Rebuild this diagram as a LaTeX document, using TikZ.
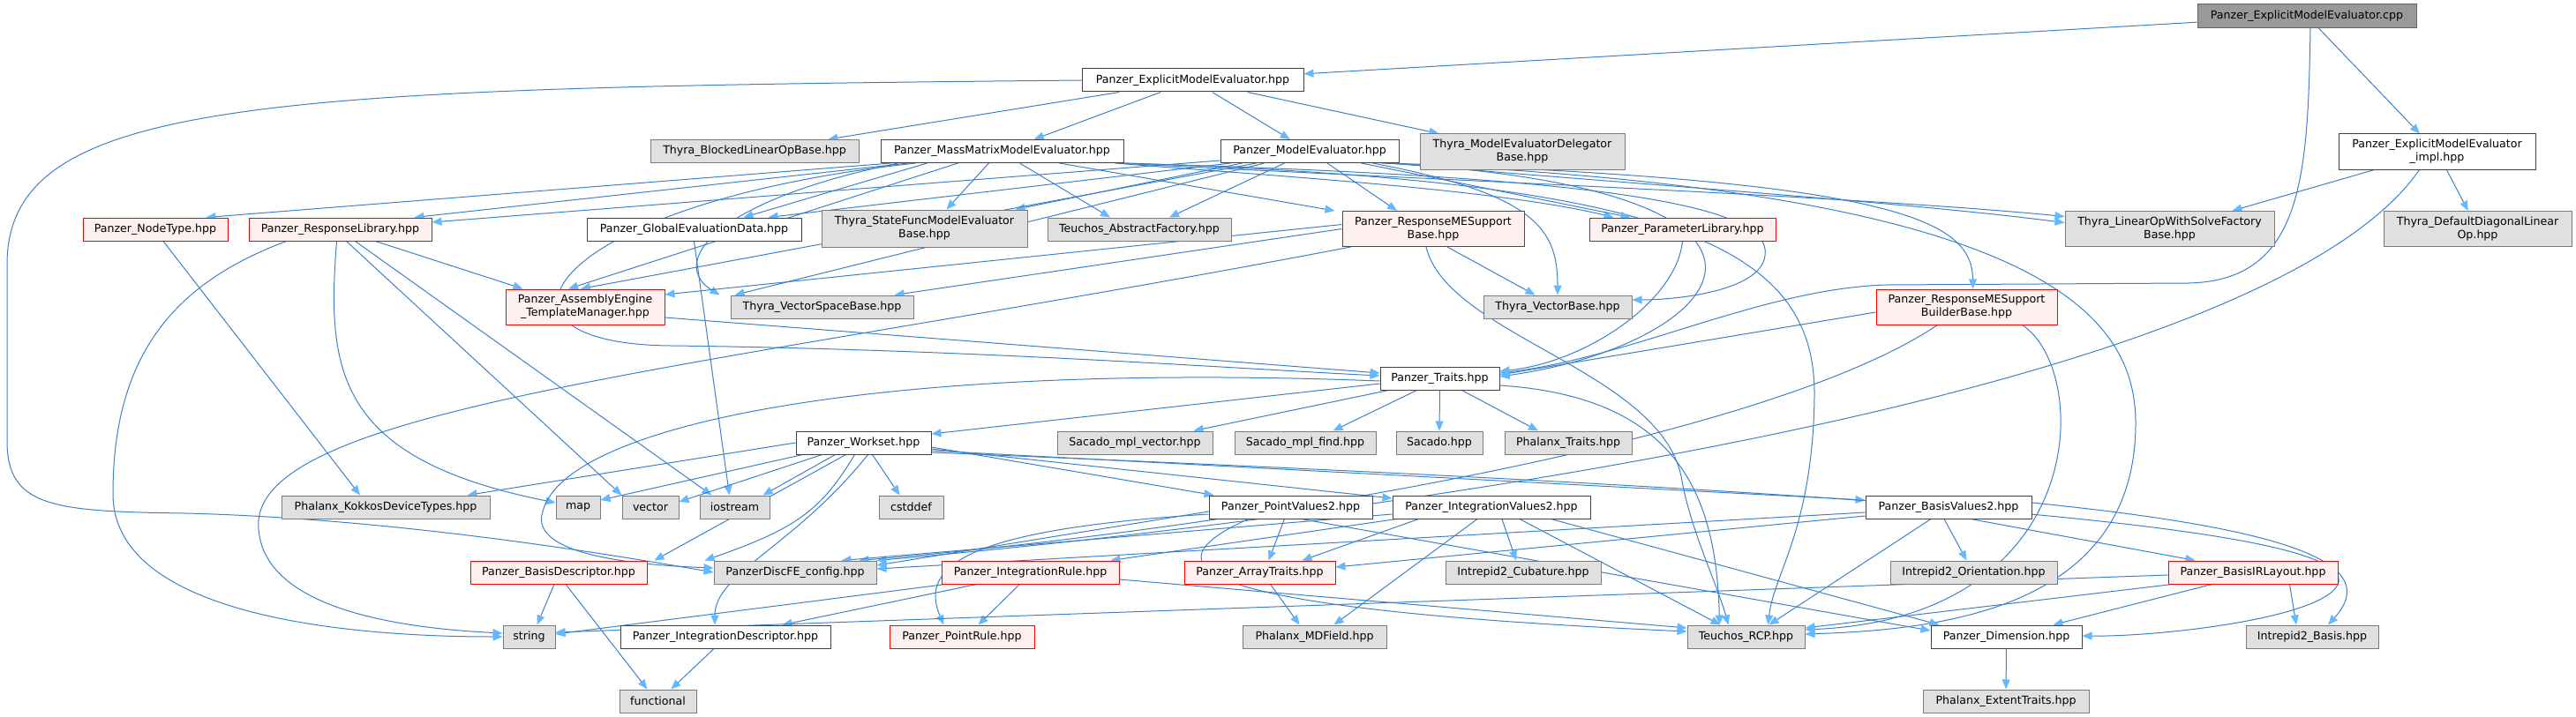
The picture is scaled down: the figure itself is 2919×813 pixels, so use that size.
\documentclass[tikz,border=0pt]{standalone}
\usepackage{fontspec}
\setmainfont{DejaVu Sans}
\usetikzlibrary{arrows.meta,calc}
\pgfdeclarelayer{edgelayer}
\pgfsetlayers{edgelayer,main}
\definecolor{edgec}{HTML}{3C80C8}
\definecolor{tipc}{HTML}{63B8FF}
\definecolor{gfill}{HTML}{E0E0E0}
\definecolor{gdraw}{HTML}{7A7A7A}
\definecolor{wdraw}{HTML}{404040}
\definecolor{rfill}{HTML}{FFF0F0}
\definecolor{cppfill}{HTML}{999999}
\definecolor{cppdraw}{HTML}{666666}
\begin{document}
\begin{tikzpicture}[x=0.5pt,y=-0.5pt,
  font=\fontsize{6.3}{7.5}\selectfont,
  nb/.style={draw,line width=0.5pt,inner sep=0pt,minimum height=13pt,align=center},
  gn/.style={nb,fill=gfill,draw=gdraw},
  wn/.style={nb,fill=white,draw=wdraw},
  rn/.style={nb,fill=rfill,draw=red},
  cn/.style={nb,fill=cppfill,draw=cppdraw},
  tall/.style={minimum height=20pt},
  e/.style={draw=edgec,line width=0.5pt,-{Triangle[length=5.5pt,width=4.5pt,color=tipc]}}]
\useasboundingbox (0,0) rectangle (2919,813);
% nodes
\node[cn,minimum width=124pt,minimum height=13.5pt] (cpp) at (2614,18) {Panzer\_ExplicitModelEvaluator.cpp};
\node[wn,minimum width=125.5pt] (emeh) at (1351.5,91) {Panzer\_ExplicitModelEvaluator.hpp};
\node[wn,tall,minimum width=111.5pt] (emei) at (2761.5,172) {Panzer\_ExplicitModelEvaluator\\\_impl.hpp};
\node[gn,minimum width=118pt] (blocked) at (855,171.5) {Thyra\_BlockedLinearOpBase.hpp};
\node[wn,minimum width=137.5pt] (mmme) at (1135.5,171.5) {Panzer\_MassMatrixModelEvaluator.hpp};
\node[wn,minimum width=101pt] (me) at (1484,171.5) {Panzer\_ModelEvaluator.hpp};
\node[gn,tall,minimum width=116pt] (medel) at (1725,172) {Thyra\_ModelEvaluatorDelegator\\Base.hpp};
\node[gn,tall,minimum width=118.5pt] (lows) at (2458.5,259.5) {Thyra\_LinearOpWithSolveFactory\\Base.hpp};
\node[gn,tall,minimum width=106.5pt] (diag) at (2807.5,259.5) {Thyra\_DefaultDiagonalLinear\\Op.hpp};
\node[rn,minimum width=82pt] (nodetype) at (176,260) {Panzer\_NodeType.hpp};
\node[rn,minimum width=103.5pt] (resplib) at (385.5,260) {Panzer\_ResponseLibrary.hpp};
\node[wn,minimum width=121.5pt] (ged) at (786.5,260) {Panzer\_GlobalEvaluationData.hpp};
\node[gn,minimum height=21pt,minimum width=116.5pt] (sfme) at (1047.5,259) {Thyra\_StateFuncModelEvaluator\\Base.hpp};
\node[gn,minimum width=104pt] (absfac) at (1291,260) {Teuchos\_AbstractFactory.hpp};
\node[rn,tall,minimum width=103pt] (rmesb) at (1624,259.5) {Panzer\_ResponseMESupport\\Base.hpp};
\node[rn,minimum width=105.5pt] (paramlib) at (1906.5,260) {Panzer\_ParameterLibrary.hpp};
\node[rn,tall,minimum width=90pt] (aetm) at (663,348) {Panzer\_AssemblyEngine\\\_TemplateManager.hpp};
\node[gn,minimum width=103.5pt] (vsb) at (931.5,348) {Thyra\_VectorSpaceBase.hpp};
\node[gn,minimum width=84pt] (vb) at (1765,348) {Thyra\_VectorBase.hpp};
\node[rn,tall,minimum width=102.5pt] (rmesbb) at (2228.5,348) {Panzer\_ResponseMESupport\\BuilderBase.hpp};
\node[wn,minimum width=67.5pt] (traits) at (1631.5,429) {Panzer\_Traits.hpp};
\node[wn,minimum width=76.5pt] (workset) at (978.5,502) {Panzer\_Workset.hpp};
\node[gn,minimum width=88pt] (smv) at (1286,502) {Sacado\_mpl\_vector.hpp};
\node[gn,minimum width=80pt] (smf) at (1479,502) {Sacado\_mpl\_find.hpp};
\node[gn,minimum width=49pt] (sacado) at (1631,502) {Sacado.hpp};
\node[gn,minimum width=72pt] (phtraits) at (1777,502) {Phalanx\_Traits.hpp};
\node[gn,minimum width=118pt] (kokkos) at (437,575) {Phalanx\_KokkosDeviceTypes.hpp};
\node[gn,minimum width=25pt] (map) at (655,575) {map};
\node[gn,minimum width=32pt] (vector) at (737,575) {vector};
\node[gn,minimum width=39.5pt] (iostream) at (832.5,575) {iostream};
\node[gn,minimum width=36.5pt] (cstddef) at (1032.5,575) {cstddef};
\node[wn,minimum width=92.5pt] (pv2) at (1462.5,575) {Panzer\_PointValues2.hpp};
\node[wn,minimum width=112pt] (iv2) at (1690,575) {Panzer\_IntegrationValues2.hpp};
\node[wn,minimum width=94pt] (bv2) at (2208,575) {Panzer\_BasisValues2.hpp};
\node[rn,minimum width=100pt] (bdesc) at (633,649) {Panzer\_BasisDescriptor.hpp};
\node[gn,minimum width=92pt] (config) at (901,649) {PanzerDiscFE\_config.hpp};
\node[rn,minimum width=100.5pt] (irule) at (1167.5,649) {Panzer\_IntegrationRule.hpp};
\node[rn,minimum width=85.5pt] (arrtraits) at (1427.5,649) {Panzer\_ArrayTraits.hpp};
\node[gn,minimum width=88pt] (cubature) at (1726,649) {Intrepid2\_Cubature.hpp};
\node[gn,minimum width=94.5pt] (orient) at (2236.5,649) {Intrepid2\_Orientation.hpp};
\node[rn,minimum width=96pt] (birl) at (2553,649) {Panzer\_BasisIRLayout.hpp};
\node[gn,minimum width=29.5pt] (string) at (599.5,722) {string};
\node[wn,minimum width=119pt] (idesc) at (822,722) {Panzer\_IntegrationDescriptor.hpp};
\node[rn,minimum width=82pt] (prule) at (1090,722) {Panzer\_PointRule.hpp};
\node[gn,minimum width=81.5pt] (mdfield) at (1489.5,722) {Phalanx\_MDField.hpp};
\node[gn,minimum width=66.5pt] (rcp) at (1978.5,722) {Teuchos\_RCP.hpp};
\node[wn,minimum width=85.5pt] (dim) at (2273.5,722) {Panzer\_Dimension.hpp};
\node[gn,minimum width=75pt] (ibasis) at (2620,722) {Intrepid2\_Basis.hpp};
\node[gn,minimum width=43.5pt] (functional) at (745.5,795) {functional};
\node[gn,minimum width=94pt] (extent) at (2273,795) {Phalanx\_ExtentTraits.hpp};
% edges
\begin{pgfonlayer}{edgelayer}
\draw[e] (cpp) -- (emeh);
\draw[e] (cpp) -- (emei);
\draw[e] ($(cpp.south)+(4,0)$) .. controls (2615,200) and (2610,318) .. (2480,321) -- (2140,323) .. controls (2000,326) and (1850,405) .. ($(traits.east)+(0,-6)$);
\draw[e] (emeh.west) .. controls (300,100) and (8,110) .. (8,300) -- (8,500) .. controls (8,575) and (60,580) .. (210,582) .. controls (450,588) and (700,630) .. (config.west);
\draw[e] (emeh) -- (blocked);
\draw[e] (emeh) -- (mmme);
\draw[e] (emeh) -- (me);
\draw[e] (emeh) -- (medel);
\draw[e] (emei) -- (lows);
\draw[e] (emei) -- (diag);
\draw[e] ($(emei.south)+(-20,0)$) .. controls (2550,470) and (1400,600) .. (config.north east);
% mmme
\draw[e] ($(mmme.south west)+(12,0)$) -- ($(nodetype.north east)+(-25,0)$);
\draw[e] ($(mmme.south west)+(32,0)$) -- ($(resplib.north east)+(-20,0)$);
\draw[e] ($(mmme.south west)+(53,0)$) -- ($(ged.north east)+(-66,0)$);
\draw[e] ($(mmme.south)+(-15,0)$) -- ($(sfme.north)+(25,0)$);
\draw[e] ($(mmme.south)+(20,0)$) -- ($(absfac.north)+(-33,0)$);
\draw[e] ($(mmme.south)+(65,0)$) -- ($(rmesb.north west)+(-8,0)$);
\draw[e] ($(mmme.south east)+(-10,0)$) .. controls (1450,200) and (1700,215) .. ($(paramlib.north west)+(28,0)$);
\draw[e] ($(mmme.south east)+(-6,0)$) .. controls (1600,203) and (2100,222) .. ($(lows.west)+(0,-14)$);
\draw[e] ($(mmme.south west)+(88,0)$) -- ($(aetm.north)+(-19,0)$);
\draw[e] ($(mmme.south west)+(20,0)$) .. controls (800,230) and (760,300) .. ($(vsb.north west)+(-12,0)$);
\draw[e] ($(mmme.south east)+(-3,0)$) .. controls (1800,200) and (2010,230) .. (2000,290) .. controls (1995,330) and (1900,340) .. ($(vb.east)+(0,-8)$);
\draw[e] ($(mmme.south west)+(40,0)$) .. controls (620,230) and (520,390) .. (760,392) .. controls (1100,396) and (1400,418) .. ($(traits.west)+(0,-3)$);
\draw[e] (mmme.south east) .. controls (1900,205) and (2058,280) .. (2056,450) .. controls (2054,600) and (2010,650) .. ($(rcp.north)+(25,0)$);
% me
\draw[e] ($(me.south west)+(0,-3)$) -- ($(resplib.east)+(0,-8)$);
\draw[e] ($(me.south west)+(12,0)$) -- ($(ged.north east)+(-38,0)$);
\draw[e] ($(me.south west)+(25,0)$) -- ($(sfme.north east)+(-14,0)$);
\draw[e] ($(me.south west)+(73,0)$) -- ($(absfac.north)+(34,0)$);
\draw[e] ($(me.south)+(20,0)$) -- ($(rmesb.north)+(-41,0)$);
\draw[e] ($(me.south east)+(-43,0)$) -- ($(paramlib.north west)+(47,0)$);
\draw[e] ($(me.south east)+(-8,0)$) .. controls (1800,205) and (2150,228) .. ($(lows.west)+(0,-7)$);
\draw[e] ($(me.south west)+(41,0)$) -- ($(aetm.north)+(-5,0)$);
\draw[e] ($(me.south west)+(50,0)$) -- ($(vsb.north west)+(5,0)$);
\draw[e] ($(me.south east)+(-30,0)$) .. controls (1740,220) and (1765,260) .. (vb.north);
\draw[e] ($(me.south east)+(-12,0)$) .. controls (2150,205) and (2235,250) .. ($(rmesbb.north)+(7,0)$);
\draw[e] ($(me.south east)+(-16,0)$) .. controls (2100,215) and (1960,390) .. ($(traits.east)+(0,-2)$);
\draw[e] ($(me.south east)+(-20,0)$) .. controls (2300,215) and (2420,350) .. (2420,480) .. controls (2420,690) and (2200,714) .. ($(rcp.east)+(0,-3)$);
% nodetype, resplib, ged
\draw[e] ($(nodetype.south)+(9,0)$) -- ($(kokkos.north)+(-29,0)$);
\draw[e] ($(resplib.south)+(40,0)$) -- ($(aetm.north west)+(20,0)$);
\draw[e] ($(resplib.south west)+(43,0)$) .. controls (200,320) and (128,400) .. (128,560) .. controls (128,700) and (400,722) .. (string.west);
\draw[e] ($(resplib.south)+(-4,0)$) .. controls (370,420) and (380,520) .. ($(map.west)+(0,-5)$);
\draw[e] ($(resplib.south)+(7,0)$) -- (vector.north west);
\draw[e] ($(resplib.south)+(17,0)$) -- ($(iostream.north west)+(14,0)$);
\draw[e] (ged.south) -- ($(iostream.north)+(-6,0)$);
% rmesb
\draw[e] ($(rmesb.west)+(0,-5)$) -- ($(aetm.east)+(0,-14)$);
\draw[e] (rmesb.west) -- ($(vsb.north east)+(-22,0)$);
\draw[e] ($(rmesb.south)+(16,0)$) -- ($(vb.north west)+(59,0)$);
\draw[e] ($(rmesb.south)+(-8,0)$) .. controls (1640,380) and (1880,420) .. (1905,540) .. controls (1915,600) and (1945,660) .. ($(rcp.north)+(-20,0)$);
\draw[e] ($(rmesb.south west)+(10,0)$) .. controls (800,420) and (280,460) .. (293,600) .. controls (300,690) and (450,712) .. ($(string.west)+(0,-4)$);
% paramlib, aetm, rmesbb
\draw[e] (paramlib.south) .. controls (1900,340) and (1800,410) .. ($(traits.east)+(0,-8)$);
\draw[e] ($(aetm.east)+(0,12)$) -- ($(traits.west)+(0,-6)$);
\draw[e] ($(rmesbb.west)+(0,6)$) -- ($(traits.east)+(0,-4)$);
\draw[e] ($(rmesbb.south)+(-33,0)$) .. controls (2000,500) and (1400,600) .. ($(config.north east)+(-20,0)$);
\draw[e] ($(rmesbb.south east)+(-40,0)$) .. controls (2370,420) and (2370,700) .. ($(rcp.east)+(0,-8)$);
% traits
\draw[e] ($(traits.west)+(0,6)$) -- ($(workset.east)+(0,-10)$);
\draw[e] ($(traits.south west)+(10,0)$) -- ($(smv.north east)+(-22,0)$);
\draw[e] ($(traits.south)+(-26,0)$) -- ($(smf.north east)+(-49,0)$);
\draw[e] (traits.south) -- (sacado.north);
\draw[e] ($(traits.south)+(25,0)$) -- ($(phtraits.north)+(-34,0)$);
\draw[e] ($(traits.east)+(0,8)$) .. controls (1900,450) and (1945,560) .. ($(rcp.north)+(-30,0)$);
\draw[e] ($(traits.west)+(0,3)$) .. controls (1000,410) and (640,480) .. (615,580) .. controls (600,625) and (700,640) .. ($(config.west)+(0,-5)$);
% workset
\draw[e] (workset.west) -- ($(kokkos.north east)+(-26,0)$);
\draw[e] ($(workset.south west)+(8,0)$) -- ($(map.east)+(0,-8)$);
\draw[e] ($(workset.south west)+(30,0)$) -- ($(vector.east)+(0,-6)$);
\draw[e] ($(workset.south west)+(45,0)$) -- ($(iostream.north east)+(-8,0)$);
\draw[e] ($(workset.south)+(10,0)$) -- ($(cstddef.north)+(-13,0)$);
\draw[e] ($(workset.east)+(0,5)$) -- ($(pv2.north west)+(6,0)$);
\draw[e] ($(workset.east)+(0,7)$) -- ($(iv2.west)+(0,-10)$);
\draw[e] ($(workset.east)+(0,9)$) -- ($(bv2.west)+(0,-8)$);
\draw[e] ($(workset.south)+(-20,0)$) -- ($(bdesc.north east)+(8,0)$);
\draw[e] ($(workset.south)+(-10,0)$) .. controls (930,580) and (900,600) .. ($(config.north west)+(-10,0)$);
\draw[e] ($(workset.south)+(5,0)$) .. controls (900,620) and (810,650) .. ($(idesc.north)+(-12,0)$);
\draw[e] ($(workset.east)+(0,11)$) .. controls (2200,560) and (2660,600) .. (2650,660) .. controls (2640,700) and (2450,722) .. ($(dim.east)+(0,-1)$);
% pv2
\draw[e] ($(pv2.west)+(0,5)$) -- ($(config.east)+(0,-8)$);
\draw[e] ($(pv2.south)+(-7,0)$) -- ($(arrtraits.north)+(10,0)$);
\draw[e] ($(pv2.west)+(0,8)$) .. controls (1100,600) and (1040,640) .. ($(prule.north west)+(62,0)$);
\draw[e] ($(pv2.south west)+(45,0)$) .. controls (1300,640) and (1330,690) .. ($(rcp.west)+(0,-6)$);
\draw[e] ($(pv2.south)+(12,0)$) -- ($(dim.west)+(0,-7)$);
% iv2
\draw[e] ($(iv2.west)+(0,8)$) -- ($(config.north east)+(-40,0)$);
\draw[e] ($(iv2.south west)+(5,0)$) -- ($(irule.north east)+(-10,0)$);
\draw[e] ($(iv2.south west)+(30,0)$) -- ($(arrtraits.north east)+(-38,0)$);
\draw[e] ($(iv2.south)+(12,0)$) -- ($(cubature.north)+(-8,0)$);
\draw[e] ($(iv2.south)+(-16,0)$) -- ($(mdfield.north east)+(-60,0)$);
\draw[e] ($(iv2.south)+(32,0)$) -- ($(rcp.north west)+(38,0)$);
\draw[e] ($(iv2.south east)+(-45,0)$) -- ($(dim.north west)+(10,0)$);
% bv2
\draw[e] ($(bv2.west)+(0,6)$) -- ($(config.east)+(0,-4)$);
\draw[e] ($(bv2.west)+(0,10)$) -- ($(arrtraits.east)+(0,-6)$);
\draw[e] ($(bv2.south)+(-5,0)$) -- ($(orient.north)+(-8,0)$);
\draw[e] ($(bv2.south)+(25,0)$) -- ($(birl.north west)+(31,0)$);
\draw[e] ($(bv2.south)+(-20,0)$) -- ($(rcp.north east)+(-41,0)$);
\draw[e] ($(bv2.east)+(0,-5)$) .. controls (2600,600) and (2700,640) .. ($(ibasis.north)+(18,0)$);
% lower
\draw[e] ($(bdesc.south)+(-5,0)$) -- ($(string.north)+(9,0)$);
\draw[e] ($(bdesc.south)+(8,0)$) -- ($(functional.north)+(-12,0)$);
\draw[e] ($(idesc.south)+(-13,0)$) -- ($(functional.north)+(15,0)$);
\draw[e] ($(irule.south)+(-12,0)$) -- ($(prule.north east)+(-64,0)$);
\draw[e] ($(irule.south west)+(40,0)$) -- ($(idesc.north east)+(-55,0)$);
\draw[e] ($(irule.south west)+(5,0)$) -- ($(string.east)+(0,-3)$);
\draw[e] ($(irule.east)+(0,8)$) -- ($(rcp.west)+(0,-10)$);
\draw[e] ($(birl.west)+(0,3)$) -- ($(string.east)+(0,-5)$);
\draw[e] ($(birl.south west)+(5,0)$) -- ($(rcp.east)+(0,-10)$);
\draw[e] ($(birl.south west)+(50,0)$) -- ($(dim.north east)+(-33,0)$);
\draw[e] ($(birl.south east)+(-55,0)$) -- ($(ibasis.north)+(-18,0)$);
\draw[e] ($(arrtraits.south)+(12,0)$) -- ($(mdfield.north)+(-17,0)$);
\draw[e] (dim) -- (extent);
\end{pgfonlayer}
\end{tikzpicture}
\end{document}
